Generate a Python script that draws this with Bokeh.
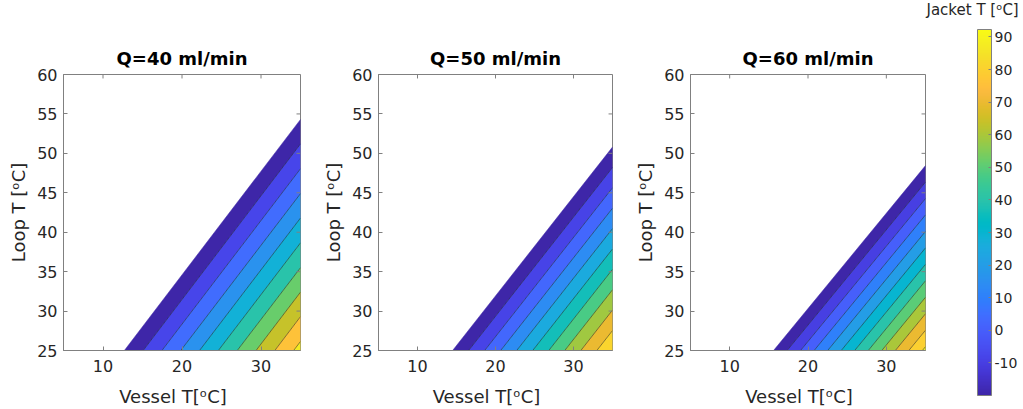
import numpy as np
from bokeh.plotting import figure
from bokeh.layouts import row
from bokeh.models import Range1d, FixedTicker, ColorBar, LinearColorMapper
from bokeh.embed import file_html
from bokeh.resources import INLINE

# ---------------- data ----------------
titles = ["Q=40 ml/min", "Q=50 ml/min", "Q=60 ml/min"]
levels = [-10, 0, 10, 20, 30, 40, 50, 60, 70, 80, 90]
# edge of filled region (first entry) and contour-level crossings
# along the bottom edge (Loop T = 25) and the right edge (Vessel T = 35)
bottom_x_q40 = [12.7, 15.08, 17.46, 19.84, 22.22, 24.60, 26.99, 29.37, 31.75, 34.13]
right_y_q40 = [54.3, 51.2, 48.05, 44.9, 41.8, 38.65, 35.5, 32.4, 29.3, 26.15]
bottom_x_q50 = [14.5, 16.55, 18.61, 20.66, 22.72, 24.77, 26.83, 28.88, 30.94, 32.99]
right_y_q50 = [50.8, 48.21, 45.63, 43.04, 40.46, 37.87, 35.29, 32.70, 30.12, 27.53]
bottom_x_q60 = [15.6, 17.33, 19.05, 20.78, 22.51, 24.24, 25.96, 27.69, 29.42, 31.15, 32.87, 34.60]
right_y_q60 = [48.45, 46.36, 44.27, 42.19, 40.10, 38.01, 35.92, 33.84, 31.75, 29.66, 27.57, 25.49]
t_min = [-20.0, -20.0, -20.0]
t_max = [73.7, 79.8, 92.3]
x_ticks = [10, 20, 30]
y_ticks = [25, 30, 35, 40, 45, 50, 55, 60]
cbar_ticks = [-10, 0, 10, 20, 30, 40, 50, 60, 70, 80, 90]
cbar_title = "Jacket T [ᵒC]"
x_label = "Vessel T[ᵒC]"
y_label = "Loop T [ᵒC]"

# ---------------- parula colormap (64 entries) ----------------
PARULA = np.array([
    [0.2422, 0.1504, 0.6603], [0.2504, 0.1650, 0.7076], [0.2578, 0.1818, 0.7511],
    [0.2647, 0.1978, 0.7952], [0.2706, 0.2147, 0.8364], [0.2751, 0.2342, 0.8710],
    [0.2783, 0.2559, 0.8991], [0.2803, 0.2782, 0.9221], [0.2813, 0.3006, 0.9414],
    [0.2810, 0.3228, 0.9579], [0.2795, 0.3447, 0.9717], [0.2760, 0.3667, 0.9829],
    [0.2699, 0.3892, 0.9906], [0.2602, 0.4123, 0.9952], [0.2440, 0.4358, 0.9988],
    [0.2206, 0.4603, 0.9973], [0.1963, 0.4847, 0.9892], [0.1834, 0.5074, 0.9798],
    [0.1786, 0.5289, 0.9682], [0.1764, 0.5499, 0.9520], [0.1687, 0.5703, 0.9359],
    [0.1540, 0.5902, 0.9218], [0.1460, 0.6091, 0.9079], [0.1380, 0.6276, 0.8973],
    [0.1248, 0.6459, 0.8883], [0.1113, 0.6635, 0.8763], [0.0952, 0.6798, 0.8598],
    [0.0689, 0.6948, 0.8394], [0.0297, 0.7082, 0.8163], [0.0036, 0.7203, 0.7917],
    [0.0067, 0.7312, 0.7660], [0.0433, 0.7411, 0.7394], [0.0964, 0.7500, 0.7120],
    [0.1408, 0.7584, 0.6842], [0.1717, 0.7670, 0.6554], [0.1938, 0.7758, 0.6251],
    [0.2161, 0.7843, 0.5923], [0.2470, 0.7918, 0.5567], [0.2906, 0.7973, 0.5188],
    [0.3406, 0.8008, 0.4789], [0.3909, 0.8029, 0.4354], [0.4456, 0.8024, 0.3909],
    [0.5044, 0.7993, 0.3480], [0.5616, 0.7942, 0.3045], [0.6174, 0.7876, 0.2612],
    [0.6720, 0.7793, 0.2227], [0.7242, 0.7698, 0.1910], [0.7738, 0.7598, 0.1646],
    [0.8203, 0.7498, 0.1535], [0.8634, 0.7406, 0.1596], [0.9035, 0.7330, 0.1774],
    [0.9393, 0.7288, 0.2100], [0.9728, 0.7298, 0.2394], [0.9956, 0.7434, 0.2371],
    [0.9970, 0.7659, 0.2199], [0.9952, 0.7893, 0.2028], [0.9892, 0.8136, 0.1885],
    [0.9786, 0.8386, 0.1766], [0.9676, 0.8639, 0.1643], [0.9610, 0.8890, 0.1537],
    [0.9597, 0.9135, 0.1423], [0.9628, 0.9373, 0.1265], [0.9691, 0.9606, 0.1064],
    [0.9769, 0.9839, 0.0805],
])
_T = np.linspace(0.0, 1.0, len(PARULA))


def parula(t):
    t = min(max(t, 0.0), 1.0)
    r, g, b = (np.interp(t, _T, PARULA[:, i]) for i in range(3))
    return "#%02x%02x%02x" % (int(round(r * 255)), int(round(g * 255)), int(round(b * 255)))


FONT = "DejaVu Sans"
TXT = "#262626"
AX = "#808080"
Y0, Y1 = 25, 60
X0, X1 = 5, 35
FRAME_W, FRAME_H = 237, 278
TOP, BOTTOM = 74, 57


def panel(title, bx, ry, tmin, tmax, left, right):
    p = figure(width=left + FRAME_W + right, height=TOP + FRAME_H + BOTTOM,
               x_range=Range1d(X0, X1), y_range=Range1d(Y0, Y1),
               output_backend="svg", toolbar_location=None,
               min_border_left=left, min_border_right=right,
               min_border_top=TOP, min_border_bottom=BOTTOM)
    p.grid.visible = False
    p.outline_line_color = AX
    p.background_fill_color = "white"
    p.border_fill_color = "white"

    xs, ys, cols = [], [], []
    n = len(bx)
    for k in range(n):
        if k < n - 1:
            xs.append([bx[k], bx[k + 1], X1, X1])
            ys.append([Y0, Y0, ry[k + 1], ry[k]])
        else:
            xs.append([bx[k], X1, X1])
            ys.append([Y0, Y0, ry[k]])
        lv = tmin if k == 0 else levels[k - 1]
        cols.append(parula((lv - tmin) / (tmax - tmin)))
    p.patches(xs, ys, fill_color=cols, line_color=cols, line_width=0.5)
    # contour lines
    p.segment(x0=bx[1:], y0=[Y0] * (n - 1), x1=[X1] * (n - 1), y1=ry[1:],
              line_color="#1a1a1a", line_width=0.6, line_alpha=0.85)
    # inward ticks on top and right edges of the box
    tx = (X1 - X0) / FRAME_W * 4
    ty = (Y1 - Y0) / FRAME_H * 4
    p.segment(x0=x_ticks, y0=[Y1] * len(x_ticks), x1=x_ticks, y1=[Y1 - ty] * len(x_ticks),
              line_color=AX, line_width=1)
    p.segment(x0=[X1] * len(y_ticks), y0=y_ticks, x1=[X1 - tx] * len(y_ticks), y1=y_ticks,
              line_color=AX, line_width=1)

    p.title.text = title
    p.title.align = "center"
    p.title.text_font = FONT
    p.title.text_font_size = "18px"
    p.title.text_font_style = "bold"
    p.title.text_color = "black"
    p.title.standoff = 11

    for ax in (p.xaxis[0], p.yaxis[0]):
        ax.major_tick_in = 4
        ax.major_tick_out = 0
        ax.minor_tick_line_color = None
        ax.axis_line_color = AX
        ax.major_tick_line_color = AX
        ax.major_label_text_font = FONT
        ax.major_label_text_font_size = "16px"
        ax.major_label_text_color = TXT
        ax.axis_label_text_font = FONT
        ax.axis_label_text_font_size = "18px"
        ax.axis_label_text_font_style = "normal"
        ax.axis_label_text_color = TXT
    p.xaxis.ticker = FixedTicker(ticks=x_ticks)
    p.yaxis.ticker = FixedTicker(ticks=y_ticks)
    p.xaxis.axis_label = x_label + "\u2003"
    p.yaxis.axis_label = y_label
    p.xaxis.major_label_standoff = 9
    p.xaxis.axis_label_standoff = 11
    p.yaxis.major_label_standoff = 6
    p.yaxis.axis_label_standoff = 5
    return p


p1 = panel(titles[0], bottom_x_q40, right_y_q40, t_min[0], t_max[0], 63, 20)
p2 = panel(titles[1], bottom_x_q50, right_y_q50, t_min[1], t_max[1], 55, 20)
p3 = panel(titles[2], bottom_x_q60, right_y_q60, t_min[2], t_max[2], 56, 98)

# ---------------- colorbar (belongs to the Q=60 panel) ----------------
cmin, cmax = t_min[2], t_max[2]
palette = [parula(i / 255.0) for i in range(256)]
mapper = LinearColorMapper(palette=palette, low=cmin, high=cmax)
cbar = ColorBar(color_mapper=mapper,
                ticker=FixedTicker(ticks=cbar_ticks), orientation="vertical",
                location=(287, -45), width=14, height=366, padding=0, margin=0,
                major_label_text_font=FONT, major_label_text_font_size="14px",
                major_label_text_color=TXT, label_standoff=3,
                major_label_overrides={t: "%d" % t for t in cbar_ticks},
                major_tick_in=3, major_tick_out=0, major_tick_line_color=AX,
                minor_tick_line_color=None, bar_line_color=AX,
                border_line_color=None, background_fill_color=None)
p3.add_layout(cbar)
# colorbar caption (carried by an invisible, tick-less bar so it can sit outside the frame)
cap = ColorBar(color_mapper=mapper, ticker=FixedTicker(ticks=[]), orientation="horizontal",
               location=(236, 330), width=1, height=1, padding=0, margin=0,
               scale_alpha=0, bar_line_color=None, major_tick_line_color=None,
               minor_tick_line_color=None, border_line_color=None, background_fill_color=None,
               title=cbar_title, title_standoff=2, title_text_font=FONT,
               title_text_font_size="15px", title_text_font_style="normal",
               title_text_color=TXT, title_text_align="left")
p3.add_layout(cap)

layout = row(p1, p2, p3)
open("out.html", "w").write(file_html(layout, INLINE))
